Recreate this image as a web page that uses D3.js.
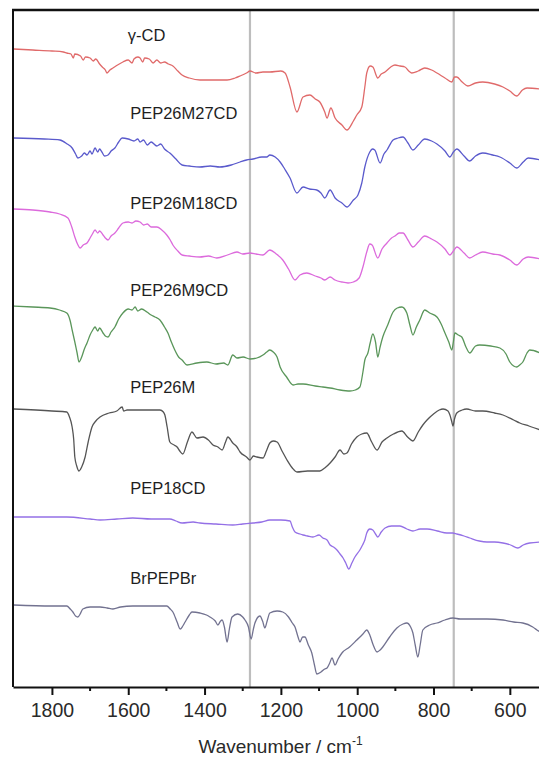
<!DOCTYPE html>
<html><head><meta charset="utf-8">
<script src="https://cdn.jsdelivr.net/npm/d3@7"></script>
<style>body{margin:0;background:#fff;} svg{display:block;}</style>
</head><body>
<svg id="chart" width="539" height="757"></svg>
<script>
// ---- data (wavenumber cm^-1, transmittance a.u., stacked) ----
const xTicks = [1800, 1600, 1400, 1200, 1000, 800, 600];
const xMinorTicks = [1700, 1500, 1300, 1100, 900, 700, 500];
const markerWavenumbers = [1281, 747];
const seriesNames = ["γ-CD", "PEP26M27CD", "PEP26M18CD", "PEP26M9CD", "PEP26M", "PEP18CD", "BrPEPBr"];
const seriesColors = ["#e06a6a", "#5a5acc", "#dc6adc", "#5a965a", "#555555", "#9470e6", "#727290"];
const labelAnchors = [[1601, 646], [1595, 568], [1595, 478], [1595, 391], [1595, 294], [1595, 193], [1595, 103]];

const gammaCD = [[1900,638],[1850,637],[1800,636],[1770,635],[1761,634],[1750,633],[1744,629],[1740,633],[1725,631],[1718,627],[1712,630],[1700,629],[1692,626],[1685,628],[1675,623],[1668,620],[1660,617],[1656,614],[1648,617],[1640,619],[1628,622],[1614,625],[1600,627],[1590,624],[1585,628],[1575,630],[1569,629],[1562,625],[1557,629],[1545,628],[1535,624],[1525,627],[1515,624],[1505,625],[1495,623],[1483,621],[1470,616],[1459,612],[1440,609],[1412,607],[1380,607],[1341,607],[1320,609],[1307,611],[1290,614],[1281,616],[1265,614],[1247,615],[1229,615],[1200,616],[1189,614],[1176,600],[1158,575],[1142,590],[1124,592],[1110,588],[1098,585],[1085,575],[1079,569],[1069,579],[1058,569],[1040,562],[1027,557],[1010,566],[1001,572],[988,580],[980,600],[975,614],[966,621],[959,620],[946,609],[937,613],[927,615],[912,620],[901,622],[888,621],[875,620],[865,616],[857,614],[840,616],[823,619],[805,617],[791,614],[770,609],[752,605],[745,610],[739,610],[725,605],[710,601],[690,604],[671,605],[640,603],[618,600],[600,596],[582,591],[567,597],[555,599],[520,598]];

const pep26m27cd = [[1900,549],[1820,548],[1779,547],[1760,543],[1747,539],[1738,533],[1732,529],[1722,531],[1715,534],[1708,532],[1700,536],[1695,533],[1687,539],[1680,535],[1675,538],[1669,535],[1662,531],[1653,532],[1645,536],[1635,539],[1625,545],[1616,549],[1600,548],[1585,546],[1575,548],[1569,545],[1560,547],[1550,542],[1540,545],[1525,541],[1515,543],[1505,538],[1491,534],[1475,528],[1459,522],[1440,521],[1412,520],[1385,521],[1360,520],[1330,522],[1307,525],[1290,527],[1273,528],[1250,530],[1237,530],[1229,532],[1215,530],[1202,525],[1190,518],[1176,509],[1158,494],[1142,500],[1125,498],[1106,497],[1095,494],[1085,489],[1071,497],[1058,489],[1040,484],[1027,480],[1010,487],[998,492],[988,504],[980,520],[967,535],[960,538],[954,537],[940,524],[930,533],[922,537],[906,547],[893,549],[880,550],[867,544],[854,537],[840,542],[823,548],[805,546],[791,543],[770,536],[757,530],[748,535],[739,538],[720,531],[705,526],[690,531],[671,534],[645,532],[626,530],[600,524],[582,519],[565,525],[552,529],[520,527]];

const pep26m18cd = [[1900,478],[1850,477],[1805,475],[1780,473],[1758,469],[1748,460],[1740,450],[1733,443],[1726,439],[1718,442],[1708,444],[1700,449],[1694,453],[1687,457],[1680,454],[1675,456],[1666,452],[1660,449],[1653,447],[1645,451],[1635,454],[1625,459],[1614,464],[1600,465],[1590,464],[1580,466],[1569,465],[1560,462],[1550,463],[1540,460],[1525,460],[1512,457],[1499,452],[1490,447],[1483,442],[1470,436],[1459,432],[1440,431],[1412,430],[1390,431],[1368,429],[1340,432],[1315,435],[1300,433],[1281,434],[1265,433],[1247,432],[1229,437],[1212,433],[1195,427],[1180,418],[1163,407],[1150,412],[1132,414],[1110,411],[1095,409],[1085,407],[1071,410],[1058,407],[1040,405],[1024,404],[1010,405],[995,409],[985,420],[975,435],[967,443],[961,442],[946,429],[935,438],[922,444],[910,449],[901,451],[890,454],[880,454],[867,447],[854,440],[840,445],[823,451],[805,448],[791,445],[770,438],[757,432],[748,436],[739,440],[720,434],[705,429],[690,432],[671,435],[645,433],[626,432],[600,427],[582,422],[565,428],[552,430],[520,428]];

const pep26m9cd = [[1900,381],[1850,380],[1805,379],[1780,377],[1761,374],[1752,366],[1747,357],[1740,345],[1734,334],[1729,325],[1722,330],[1715,338],[1708,344],[1700,352],[1693,357],[1687,360],[1680,356],[1675,359],[1666,354],[1660,351],[1653,350],[1645,355],[1635,360],[1625,368],[1614,374],[1600,378],[1590,377],[1582,380],[1575,376],[1565,378],[1551,375],[1540,372],[1530,370],[1517,367],[1505,360],[1496,354],[1487,345],[1478,337],[1468,330],[1459,327],[1446,322],[1420,324],[1394,325],[1370,323],[1350,324],[1339,322],[1326,332],[1315,329],[1299,330],[1281,328],[1263,329],[1247,332],[1237,335],[1229,337],[1220,335],[1210,330],[1202,320],[1185,310],[1168,302],[1155,303],[1142,303],[1110,301],[1090,300],[1071,299],[1045,297],[1019,296],[1005,297],[993,300],[985,315],[980,327],[972,334],[966,344],[959,353],[952,345],[946,330],[940,340],[933,350],[920,362],[906,375],[895,379],[883,380],[870,374],[862,362],[854,352],[845,360],[836,367],[823,377],[810,374],[791,370],[780,363],[770,354],[760,345],[752,337],[748,345],[744,354],[735,352],[726,350],[715,340],[705,334],[690,341],[679,342],[650,341],[626,339],[610,333],[600,325],[590,321],[582,320],[574,322],[566,325],[555,334],[548,337],[520,334]];

const pep26m = [[1900,278],[1800,276],[1761,275],[1754,270],[1747,260],[1743,248],[1740,230],[1735,221],[1729,216],[1722,220],[1713,230],[1705,245],[1695,260],[1685,266],[1674,270],[1650,274],[1630,276],[1616,280],[1612,276],[1603,277],[1560,277],[1517,277],[1508,275],[1504,272],[1498,260],[1491,245],[1480,242],[1472,240],[1465,236],[1457,233],[1445,245],[1433,255],[1420,249],[1404,250],[1390,247],[1378,242],[1365,240],[1354,237],[1345,245],[1339,250],[1326,244],[1315,240],[1307,235],[1290,230],[1281,227],[1272,231],[1263,230],[1247,229],[1238,236],[1229,244],[1220,246],[1210,245],[1197,236],[1184,227],[1170,219],[1158,215],[1130,216],[1098,216],[1085,219],[1071,224],[1058,230],[1045,237],[1035,233],[1027,234],[1015,243],[1001,250],[988,253],[975,254],[962,245],[948,237],[935,245],[922,249],[905,253],[883,256],[868,250],[854,246],[840,255],[828,262],[817,267],[800,273],[785,277],[775,278],[762,276],[757,272],[752,265],[749,261],[745,268],[739,274],[725,277],[713,278],[690,276],[671,276],[640,274],[618,272],[590,267],[574,264],[550,261],[520,257]];

const pep18cd = [[1900,170],[1800,170],[1761,170],[1700,168],[1674,167],[1630,168],[1588,169],[1540,168],[1491,168],[1475,166],[1459,164],[1430,165],[1412,164],[1370,163],[1326,162],[1300,163],[1273,164],[1250,165],[1229,167],[1200,167],[1176,166],[1170,160],[1163,155],[1150,153],[1142,152],[1130,151],[1116,150],[1100,152],[1090,149],[1079,147],[1071,142],[1062,140],[1053,137],[1045,133],[1037,129],[1030,124],[1022,118],[1014,124],[1006,130],[993,137],[986,142],[980,147],[975,154],[967,158],[959,157],[952,153],[946,150],[937,155],[927,159],[910,161],[888,161],[870,158],[854,156],[835,158],[817,158],[790,156],[765,154],[750,154],[739,153],[720,151],[705,149],[680,146],[660,145],[640,145],[618,144],[598,142],[579,139],[565,142],[548,144],[520,145]];

const brpepbr = [[1900,82],[1800,81],[1761,81],[1752,78],[1745,75],[1738,71],[1732,70],[1726,73],[1719,78],[1700,80],[1674,80],[1655,79],[1640,78],[1620,80],[1588,81],[1540,81],[1499,81],[1490,78],[1483,75],[1472,65],[1464,58],[1457,61],[1451,65],[1440,72],[1433,75],[1412,74],[1395,72],[1386,70],[1372,66],[1365,62],[1358,66],[1354,67],[1348,60],[1341,45],[1335,58],[1328,70],[1313,73],[1300,70],[1294,67],[1285,60],[1278,48],[1272,58],[1268,64],[1255,71],[1248,66],[1242,59],[1236,66],[1229,74],[1210,76],[1195,75],[1180,70],[1170,64],[1163,60],[1155,50],[1150,45],[1143,50],[1137,50],[1128,42],[1119,34],[1112,22],[1106,13],[1095,15],[1085,18],[1079,19],[1072,24],[1066,29],[1058,22],[1050,28],[1040,34],[1020,40],[1001,47],[985,53],[975,57],[967,52],[958,42],[948,35],[940,37],[933,40],[915,50],[896,59],[880,63],[870,64],[860,60],[854,54],[848,42],[841,30],[835,42],[828,57],[810,62],[791,64],[770,67],[749,69],[730,68],[705,68],[660,68],[618,67],[590,65],[566,64],[540,60],[529,57],[520,55]];

const allSeries = [gammaCD, pep26m27cd, pep26m18cd, pep26m9cd, pep26m, pep18cd, brpepbr];

// ---- layout ----
const svg = d3.select("#chart");
const mLeft = 13, mTop = 10, mBottom = 687, mRight = 548;
const x = d3.scaleLinear().domain([1902, 500]).range([mLeft, mRight]);
const y = d3.scaleLinear().domain([0, 677]).range([mBottom, mTop]);

// marker lines
svg.selectAll("line.marker").data(markerWavenumbers).enter().append("line")
  .attr("class", "marker")
  .attr("x1", d => x(d)).attr("x2", d => x(d))
  .attr("y1", mTop).attr("y2", mBottom)
  .attr("stroke", "#bdbdbd").attr("stroke-width", 2.2);

// spectra
const line = d3.line().x(d => x(d[0])).y(d => y(d[1])).curve(d3.curveMonotoneX);
svg.selectAll("path.spec").data(allSeries).enter().append("path")
  .attr("class", "spec")
  .attr("d", line)
  .attr("fill", "none")
  .attr("stroke", (d, i) => seriesColors[i])
  .attr("stroke-width", 1.3)
  .attr("stroke-linejoin", "round");

// labels
svg.selectAll("text.lab").data(seriesNames).enter().append("text")
  .attr("class", "lab")
  .attr("x", (d, i) => x(labelAnchors[i][0]))
  .attr("y", (d, i) => y(labelAnchors[i][1]))
  .attr("font-family", "Liberation Sans, Arial, sans-serif")
  .attr("font-size", 16.5)
  .attr("fill", "#1e1e1e")
  .text(d => d);

// frame
svg.append("line").attr("x1", mLeft).attr("x2", mLeft).attr("y1", mTop - 1).attr("y2", mBottom)
  .attr("stroke", "#111").attr("stroke-width", 2);
svg.append("line").attr("x1", mLeft - 1).attr("x2", mRight).attr("y1", mTop).attr("y2", mTop)
  .attr("stroke", "#111").attr("stroke-width", 2.4);

// bottom axis
const axis = svg.append("g").attr("transform", `translate(0,${mBottom})`)
  .call(d3.axisBottom(x).tickValues(xTicks).tickFormat(d3.format("d")).tickSize(8).tickPadding(8).tickSizeOuter(0));
axis.select(".domain").attr("stroke", "#111").attr("stroke-width", 2);
axis.selectAll(".tick line").attr("stroke", "#111").attr("stroke-width", 2);
axis.selectAll(".tick text").attr("font-family", "Liberation Sans, Arial, sans-serif")
  .attr("font-size", 19.5).attr("fill", "#2a2a2a");
svg.append("g").selectAll("line").data(xMinorTicks).enter().append("line")
  .attr("x1", d => x(d)).attr("x2", d => x(d))
  .attr("y1", mBottom).attr("y2", mBottom + 4)
  .attr("stroke", "#111").attr("stroke-width", 2);

// axis title
const title = svg.append("text")
  .attr("x", (mLeft + mRight) / 2).attr("y", 753)
  .attr("text-anchor", "middle")
  .attr("font-family", "Liberation Sans, Arial, sans-serif")
  .attr("font-size", 19).attr("fill", "#2a2a2a");
title.append("tspan").text("Wavenumber / cm");
title.append("tspan").attr("dy", -8).attr("font-size", 12).text("-1");
</script>
</body></html>
